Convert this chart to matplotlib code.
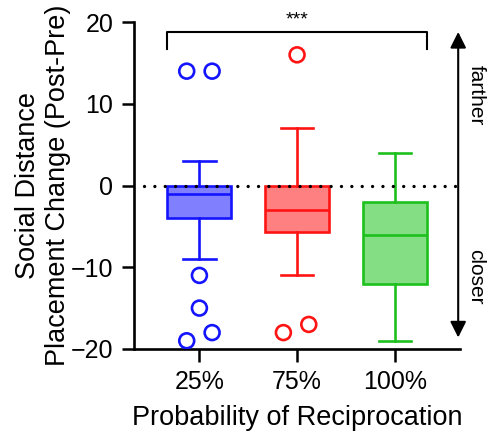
import numpy as np
import matplotlib
matplotlib.use("Agg")
from matplotlib import pyplot as plt

plt.rcParams['font.family'] = ['Liberation Sans', 'DejaVu Sans']

groups = ["25%", "75%", "100%"]
q1 = [-4, -5.7, -12]
med = [-1, -3, -6]
q3 = [0, 0, -2]
whis_lo = [-9, -11, -19]
whis_hi = [3, 7, 4]
fliers = [[14, 14, -11, -15, -18, -19], [16, -18, -17], []]
edge_cols = ["#1414ff", "#ff1414", "#1dc01d"]
fill_cols = ["#8080ff", "#ff8080", "#84de84"]

# small sideways offsets for overlapping outliers
flier_dx = [[-0.13, 0.13, 0, 0, 0.13, -0.13], [0, -0.14, 0.12], []]

fig = plt.figure(figsize=(4.89, 4.34), dpi=100)
ax = fig.add_axes([0.274, 0.196, 0.667, 0.753])

pos = np.arange(1, len(groups) + 1)
stats = []
for i in range(len(groups)):
    stats.append(dict(med=med[i], q1=q1[i], q3=q3[i], whislo=whis_lo[i],
                      whishi=whis_hi[i], fliers=[]))

lw = 1.9
bp = ax.bxp(stats, positions=pos, widths=0.655, patch_artist=True,
            showfliers=False, capwidths=0.33)
for i in range(len(groups)):
    bp['boxes'][i].set_facecolor(fill_cols[i])
    bp['boxes'][i].set_edgecolor(edge_cols[i])
    bp['boxes'][i].set_linewidth(lw)
    bp['medians'][i].set_color(edge_cols[i])
    bp['medians'][i].set_linewidth(lw)
    for k in (2 * i, 2 * i + 1):
        bp['whiskers'][k].set_color(edge_cols[i])
        bp['whiskers'][k].set_linewidth(lw)
        bp['caps'][k].set_color(edge_cols[i])
        bp['caps'][k].set_linewidth(lw)
    if fliers[i]:
        ax.scatter(pos[i] + np.array(flier_dx[i]), fliers[i], s=115,
                   facecolors='none', edgecolors=edge_cols[i],
                   linewidths=lw, zorder=3)

# zero reference line
ax.plot([0.43, 3.65], [0, 0], color='black', lw=2.4,
        linestyle=(0, (0.01, 3.1)), dash_capstyle='round', zorder=4)

# significance bracket
bx0 = pos[0] - 0.655 / 2
bx1 = pos[2] + 0.655 / 2
ax.plot([bx0, bx0, bx1, bx1], [16.7, 18.8, 18.8, 16.7], color='black',
        lw=1.5, clip_on=False)
ax.text(2, 19.2, "***", ha='center', va='bottom', fontsize=14)

# direction arrow
ax.annotate("", xy=(3.65, 18.8), xytext=(3.65, -18.6),
            arrowprops=dict(arrowstyle='<|-|>', color='black', lw=1.5,
                            mutation_scale=24, shrinkA=0, shrinkB=0),
            annotation_clip=False)
ax.text(3.83, 11, "farther", rotation=270, ha='center', va='center',
        fontsize=15)
ax.text(3.83, -11.2, "closer", rotation=270, ha='center', va='center',
        fontsize=15)

ax.set_xlim(0.33, 3.67)
ax.set_ylim(-20, 20)
ax.set_yticks([-20, -10, 0, 10, 20])
ax.set_xticks(pos)
ax.set_xticklabels(groups)
ax.tick_params(labelsize=18, width=1.8, length=9, pad=6)
ax.spines['top'].set_visible(False)
ax.spines['right'].set_visible(False)
ax.spines['left'].set_linewidth(1.9)
ax.spines['bottom'].set_linewidth(1.9)

ax.set_xlabel("Probability of Reciprocation", fontsize=19.5, labelpad=8)
ax.set_ylabel("Social Distance\nPlacement Change (Post-Pre)", fontsize=19.5,
              labelpad=0, linespacing=1.2)

fig.savefig("out.png", dpi=100)
